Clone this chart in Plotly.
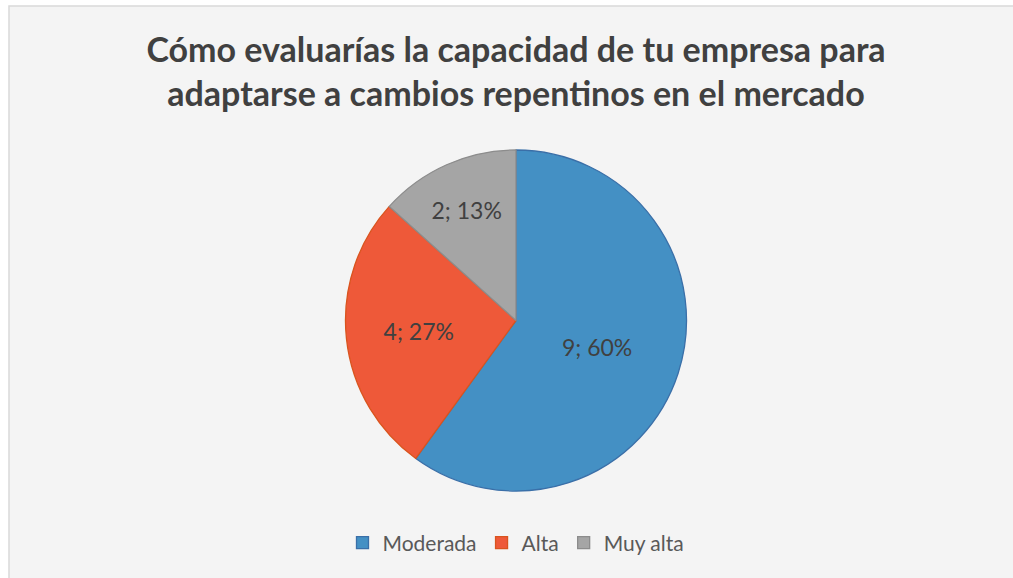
import plotly.graph_objects as go

# datos de la encuesta
labels = ["Moderada", "Alta", "Muy alta"]
values = [9, 4, 2]
colors = ["#4490C4", "#EE5939", "#A5A5A5"]
edge_colors = ["#3A6FA8", "#D9541E", "#8C8C8C"]

title = "Cómo evaluarías la capacidad de tu empresa para<br>adaptarse a cambios repentinos en el mercado"

W, H = 1013, 578
fnt = "Lato, Carlito, 'Open Sans', sans-serif"

fig = go.Figure()
fig.add_trace(go.Pie(
    labels=labels,
    values=values,
    sort=False,
    direction="clockwise",
    rotation=0,
    marker=dict(colors=colors, line=dict(color=edge_colors, width=1.3)),
    texttemplate="%{value}; %{percent:.0%}",
    textposition="inside",
    insidetextorientation="horizontal",
    textfont=dict(family=fnt, size=23, color="#404040"),
    hoverinfo="label+value+percent",
    domain=dict(x=[(516 - 171) / W, (516 + 171) / W], y=[1 - 491 / H, 1 - 150 / H]),
))

# marco gris del area del grafico
fig.add_shape(type="rect", xref="paper", yref="paper",
              x0=9 / W, x1=1.01, y0=-0.01, y1=1 - 6 / H,
              line=dict(color="#D9D9D9", width=1.5),
              fillcolor="#F4F4F4", layer="below")

fig.update_layout(
    width=W, height=H,
    margin=dict(l=0, r=0, t=0, b=0),
    paper_bgcolor="white",
    plot_bgcolor="white",
    title=dict(text=title, x=516 / W, xanchor="center", y=1 - 62 / H, yanchor="middle",
               font=dict(family=fnt, size=34, color="#404040", weight="bold")),
    showlegend=True,
    legend=dict(orientation="h", x=516 / W, xanchor="center", y=1 - 543 / H, yanchor="middle",
                font=dict(family=fnt, size=21, color="#595959"),
                bgcolor="rgba(0,0,0,0)", traceorder="normal"),
)

fig.write_html("out.html", config={"displayModeBar": False},
               post_script="document.body.style.margin='0';document.body.style.overflow='hidden';")
